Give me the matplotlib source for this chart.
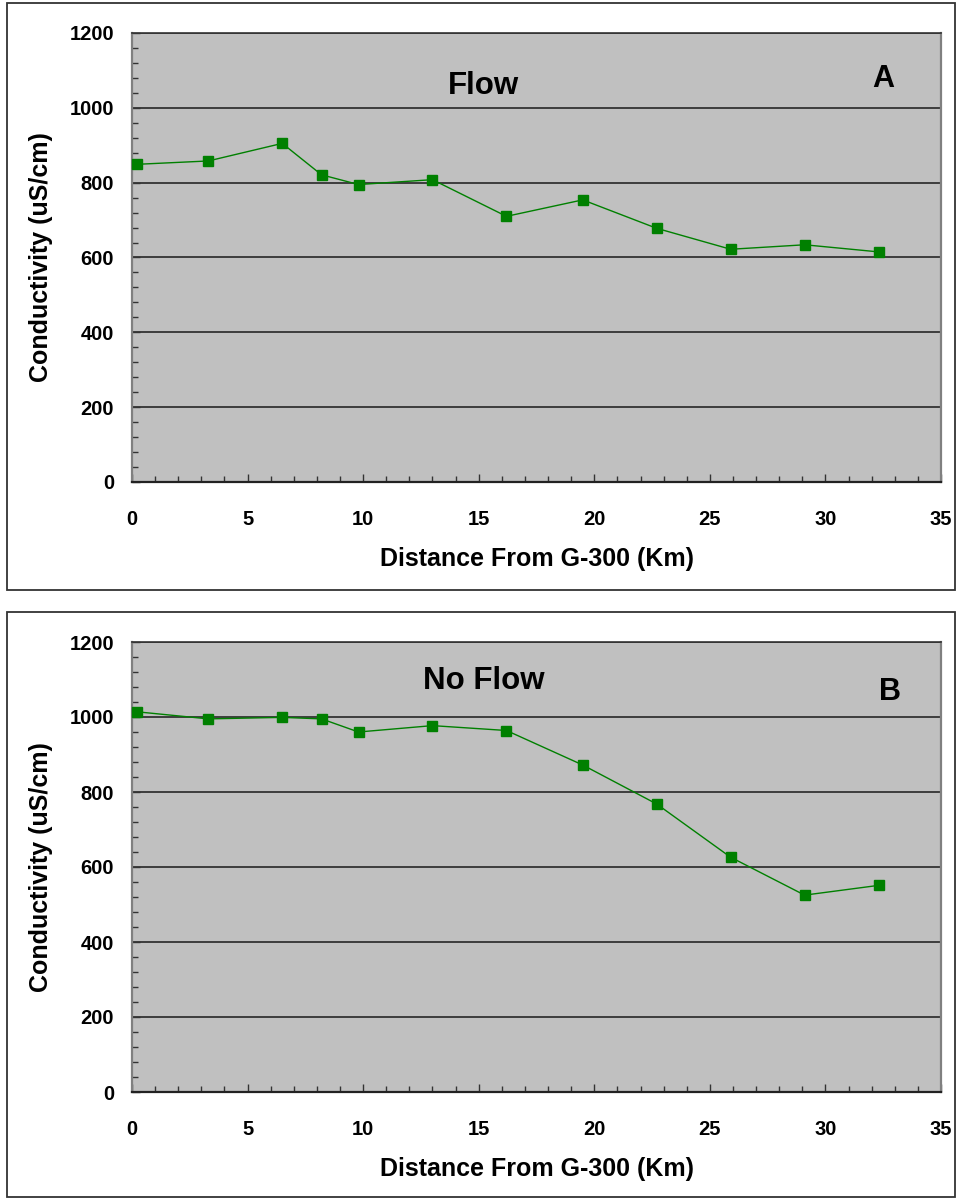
import matplotlib
matplotlib.use("Agg")
import matplotlib.pyplot as plt
from matplotlib.patches import Rectangle
from matplotlib.ticker import MultipleLocator

# ---- data ----
distance_km = [0.2, 3.3, 6.5, 8.2, 9.8, 13.0, 16.2, 19.5, 22.7, 25.9, 29.1, 32.3]
cond_flow = [849, 858, 905, 821, 795, 808, 710, 754, 678, 622, 634, 615]
cond_noflow = [1014, 995, 999, 995, 960, 977, 964, 872, 768, 626, 525, 551]
titles = ["Flow", "No Flow"]
panel_letters = ["A", "B"]
xlabel = "Distance From G-300 (Km)"
ylabel = "Conductivity (uS/cm)"

W, H = 956, 1198
fig = plt.figure(figsize=(W / 100, H / 100), dpi=100)
fig.patch.set_facecolor("white")

FONT = "Liberation Sans"
GREEN = "#008000"


def px_axes(left, top, right, bottom):
    return fig.add_axes([left / W, 1 - bottom / H, (right - left) / W, (bottom - top) / H])


panels = [
    dict(box=(7, 3, 955, 590), ax=(132, 33, 941, 482), y=cond_flow,
         title_pos=(0.434, 0.882), letter_pos=(0.928, 0.898)),
    dict(box=(7, 612, 955, 1197), ax=(132, 642, 941, 1092), y=cond_noflow,
         title_pos=(0.435, 0.913), letter_pos=(0.937, 0.889)),
]

for i, p in enumerate(panels):
    x0, y0, x1, y1 = p["box"]
    fig.patches.append(Rectangle((x0 / W, 1 - y1 / H), (x1 - x0) / W, (y1 - y0) / H,
                                 transform=fig.transFigure, fill=False,
                                 edgecolor="#333333", linewidth=1.3))
    ax = px_axes(*p["ax"])
    ax.set_facecolor("#C0C0C0")
    ax.set_xlim(0, 35)
    ax.set_ylim(0, 1200)
    ax.xaxis.set_major_locator(MultipleLocator(5))
    ax.xaxis.set_minor_locator(MultipleLocator(1))
    ax.yaxis.set_major_locator(MultipleLocator(200))
    ax.yaxis.set_minor_locator(MultipleLocator(40))
    ax.grid(axis="y", which="major", color="#1a1a1a", linewidth=1.1)
    ax.set_axisbelow(True)
    ax.tick_params(which="both", direction="in", colors="#333333")
    ax.tick_params(which="major", length=6, width=1)
    ax.tick_params(which="minor", length=4, width=1)
    ax.tick_params(axis="x", which="major", pad=20)
    ax.tick_params(axis="y", which="major", pad=13)
    for lab in ax.get_xticklabels() + ax.get_yticklabels():
        lab.set_fontfamily(FONT)
        lab.set_fontweight("bold")
        lab.set_fontsize(14.5)
        lab.set_color("black")
    for s in ["left", "right"]:
        ax.spines[s].set_color("#808080")
        ax.spines[s].set_linewidth(1.6)
    ax.spines["bottom"].set_color("#222222")
    ax.spines["bottom"].set_linewidth(1.6)
    ax.spines["top"].set_color("#333333")
    ax.spines["top"].set_linewidth(1.2)

    ax.plot(distance_km, p["y"], color=GREEN, linewidth=1.0, marker="s",
            markersize=7, markerfacecolor=GREEN, markeredgecolor=GREEN, zorder=3,
            clip_on=False)

    ax.set_xlabel(xlabel, fontfamily=FONT, fontweight="bold", fontsize=18)
    ax.xaxis.set_label_coords(0.5, -0.145)
    ax.set_ylabel(ylabel, fontfamily=FONT, fontweight="bold", fontsize=18)
    ax.yaxis.set_label_coords(-0.0977, 0.5)

    ax.text(*p["title_pos"], titles[i], transform=ax.transAxes, ha="center", va="center",
            fontfamily=FONT, fontweight="bold", fontsize=22.5)
    ax.text(*p["letter_pos"], panel_letters[i], transform=ax.transAxes, ha="center",
            va="center", fontfamily=FONT, fontweight="bold", fontsize=22)

fig.savefig("out.png", dpi=100)
